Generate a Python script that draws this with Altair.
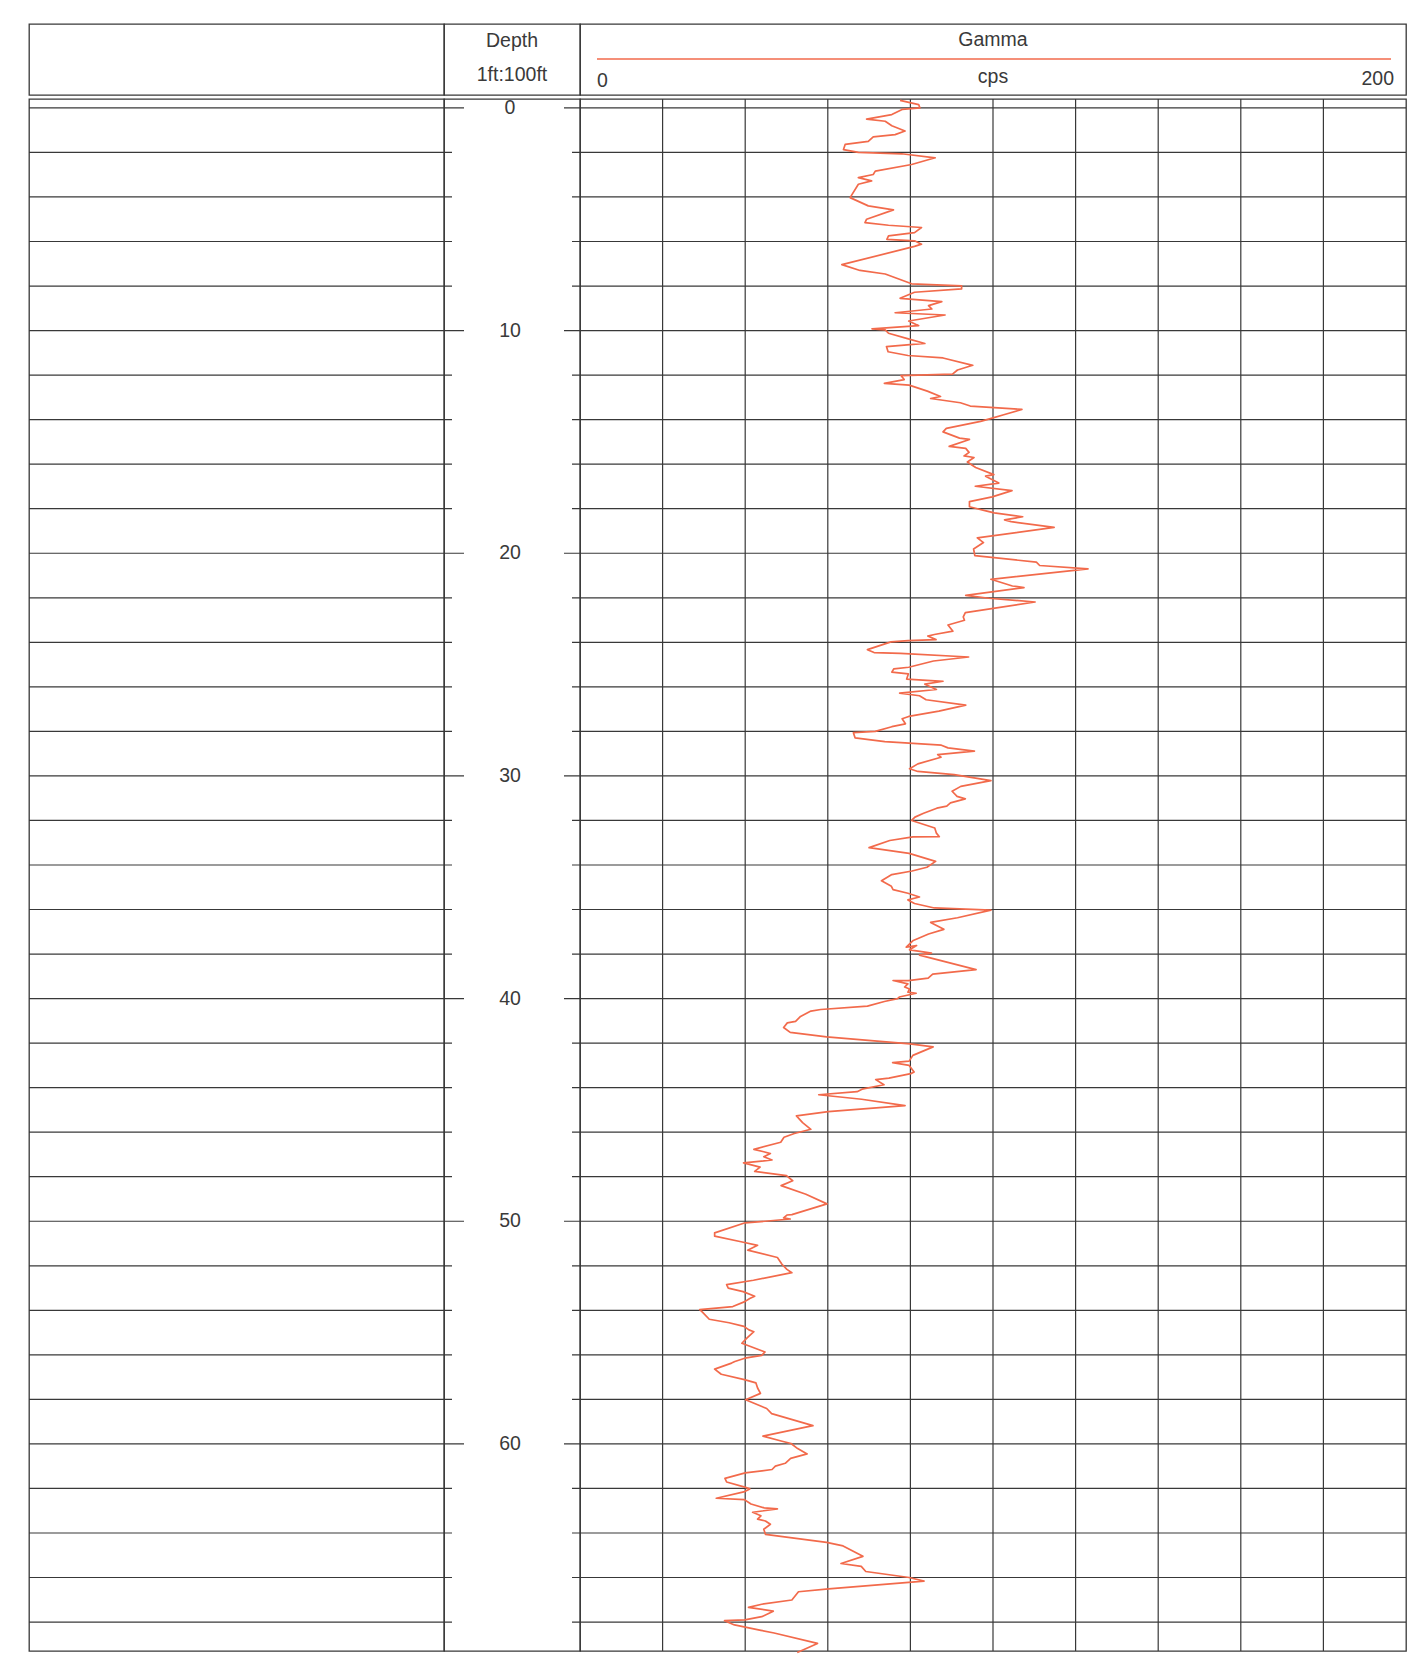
import altair as alt
import pandas as pd

DEPTH_FT = [
    -0.34, -0.15, 0.0, 0.07, 0.3, 0.5, 0.6, 0.8, 1.04, 1.2, 1.3, 1.5, 1.64, 1.87, 2.0, 2.06, 2.24, 2.54, 2.84, 2.99,
    3.13, 3.28, 3.43, 4.03, 4.4, 4.58, 5.0, 5.15, 5.27, 5.37, 5.6, 5.75, 5.9, 5.97, 6.12, 6.22, 7.04, 7.3, 7.46, 7.9,
    7.99, 8.13, 8.28, 8.55, 8.7, 8.88, 9.03, 9.2, 9.3, 9.57, 9.78, 9.92, 9.97, 10.12, 10.37, 10.58, 10.63, 10.72, 10.95, 11.12,
    11.23, 11.56, 11.77, 11.96, 12.02, 12.2, 12.37, 12.45, 12.72, 12.96, 13.05, 13.24, 13.39, 13.54, 13.78, 13.93, 14.08, 14.39, 14.55, 14.83,
    14.89, 15.2, 15.29, 15.47, 15.63, 15.7, 15.9, 16.15, 16.47, 16.54, 16.85, 16.99, 17.19, 17.47, 17.68, 17.91, 18.1, 18.19, 18.36, 18.5,
    18.58, 18.84, 19.31, 19.52, 19.81, 20.11, 20.4, 20.55, 20.7, 21.17, 21.47, 21.54, 21.89, 22.02, 22.19, 22.67, 22.86, 23.01, 23.22, 23.5,
    23.65, 23.72, 23.88, 23.92, 23.98, 24.33, 24.46, 24.5, 24.66, 24.84, 25.12, 25.19, 25.34, 25.42, 25.65, 25.75, 25.88, 26.12, 26.28, 26.4,
    26.58, 26.82, 27.09, 27.33, 27.43, 27.66, 27.79, 28.0, 28.06, 28.29, 28.46, 28.62, 28.74, 28.89, 29.04, 29.16, 29.46, 29.68, 29.8, 29.94,
    30.21, 30.47, 30.69, 30.92, 31.03, 31.21, 31.36, 31.45, 31.68, 31.85, 32.0, 32.34, 32.57, 32.73, 32.74, 32.9, 33.22, 33.48, 33.84, 34.1,
    34.27, 34.43, 34.71, 34.96, 35.11, 35.27, 35.44, 35.57, 35.73, 35.93, 36.03, 36.37, 36.58, 36.89, 37.1, 37.39, 37.69, 37.62, 37.81, 37.88,
    37.96, 38.05, 38.7, 38.9, 39.08, 39.19, 39.19, 39.34, 39.48, 39.57, 39.71, 39.76, 39.93, 40.0, 40.13, 40.34, 40.49, 40.56, 40.8, 41.02,
    41.09, 41.3, 41.52, 41.72, 42.03, 42.17, 42.55, 42.81, 42.88, 43.0, 43.3, 43.37, 43.57, 43.64, 43.87, 44.07, 44.18, 44.32, 44.52, 44.81,
    45.08, 45.27, 45.57, 45.87, 46.06, 46.23, 46.45, 46.77, 46.88, 46.96, 47.1, 47.25, 47.38, 47.57, 47.76, 47.95, 48.18, 48.4, 48.79, 49.22,
    49.7, 49.72, 49.85, 49.9, 50.0, 50.07, 50.52, 50.67, 50.92, 51.08, 51.3, 51.63, 51.93, 52.16, 52.31, 52.65, 52.85, 53.0, 53.16, 53.37,
    53.47, 53.61, 53.83, 53.97, 54.09, 54.4, 54.56, 54.72, 54.88, 54.96, 55.25, 55.48, 55.87, 56.02, 56.15, 56.3, 56.37, 56.64, 56.87, 57.11,
    57.26, 57.49, 57.73, 58.02, 58.41, 58.64, 59.18, 59.65, 59.87, 59.98, 60.21, 60.45, 60.65, 60.87, 61.0, 61.15, 61.3, 61.55, 61.71, 61.94,
    62.02, 62.14, 62.44, 62.5, 62.7, 62.87, 62.92, 63.07, 63.23, 63.38, 63.46, 63.61, 63.83, 64.06, 64.42, 64.58, 65.05, 65.37, 65.5, 65.73,
    66.0, 66.16, 66.51, 66.64, 67.01, 67.2, 67.34, 67.51, 67.76, 67.9, 67.94, 68.13, 68.37, 68.49, 68.96, 69.37,
]
GAMMA_CPS = [
    77.5, 82.0, 82.3, 78.0, 75.5, 69.4, 73.9, 75.5, 78.7, 76.3, 71.0, 69.8, 64.2, 63.8, 67.4, 77.9, 86.0, 80.3, 71.5, 71.0,
    67.4, 70.6, 67.4, 65.4, 69.8, 75.9, 69.4, 69.0, 74.7, 82.7, 81.0, 74.7, 74.3, 81.0, 82.7, 81.0, 63.4, 67.8, 73.9, 80.3,
    92.4, 92.4, 81.0, 77.5, 87.6, 84.4, 85.2, 76.3, 88.4, 79.6, 82.0, 70.7, 73.9, 74.7, 79.5, 83.5, 79.9, 74.2, 74.6, 79.4,
    87.9, 95.1, 91.4, 90.2, 77.7, 78.5, 73.7, 79.7, 84.1, 87.3, 84.9, 92.1, 94.5, 107.0, 102.6, 99.8, 97.0, 88.7, 87.9, 91.9,
    94.3, 89.4, 93.4, 94.2, 93.0, 95.4, 93.8, 95.8, 100.2, 98.2, 101.4, 95.7, 104.6, 99.8, 94.3, 94.3, 98.3, 100.3, 107.2, 102.8,
    104.4, 114.8, 96.2, 97.7, 95.3, 95.6, 110.5, 111.3, 123.0, 99.5, 104.7, 107.5, 93.4, 99.0, 110.2, 93.3, 92.8, 93.1, 89.1, 90.3,
    85.8, 84.2, 86.2, 79.4, 75.3, 69.6, 71.2, 77.6, 94.1, 85.6, 79.6, 76.0, 75.5, 79.5, 79.1, 87.9, 83.5, 86.3, 77.4, 82.2,
    83.8, 93.4, 86.9, 79.6, 78.0, 78.8, 75.5, 71.5, 66.2, 66.6, 73.8, 87.5, 89.1, 95.5, 86.6, 87.4, 81.8, 79.8, 81.8, 90.6,
    99.5, 92.2, 90.1, 91.3, 93.3, 89.7, 88.8, 86.4, 83.2, 81.1, 80.3, 85.9, 86.3, 87.0, 80.6, 75.0, 70.0, 79.7, 86.1, 84.0,
    80.4, 75.5, 73.0, 75.4, 75.8, 79.4, 82.2, 79.4, 81.0, 85.8, 99.5, 91.4, 84.9, 88.1, 84.4, 80.7, 79.0, 81.5, 79.8, 82.3,
    85.1, 82.2, 95.9, 85.4, 84.3, 79.5, 75.8, 79.4, 78.6, 79.8, 79.4, 81.4, 77.3, 76.9, 73.7, 69.6, 58.3, 55.9, 53.4, 52.2,
    50.2, 49.3, 50.9, 59.7, 79.9, 85.5, 80.6, 79.7, 75.7, 79.7, 80.9, 80.1, 74.8, 71.6, 73.6, 68.3, 67.1, 57.8, 68.2, 78.7,
    60.1, 52.4, 53.9, 55.9, 51.9, 49.4, 48.6, 42.1, 44.5, 46.1, 44.5, 46.5, 39.6, 43.6, 42.3, 50.0, 51.5, 48.7, 54.7, 59.8,
    51.3, 50.1, 49.3, 50.9, 44.8, 40.0, 32.6, 32.6, 39.0, 43.0, 40.6, 47.8, 48.9, 50.1, 51.3, 42.0, 35.5, 35.9, 39.5, 42.3,
    41.1, 39.9, 37.0, 29.0, 29.7, 31.3, 36.1, 39.7, 40.9, 42.1, 40.4, 39.2, 44.8, 44.0, 39.9, 37.5, 36.7, 32.6, 34.2, 39.8,
    42.6, 43.0, 43.7, 40.1, 45.2, 46.4, 56.4, 44.3, 48.7, 51.1, 52.7, 55.0, 51.0, 49.7, 47.3, 46.5, 40.0, 35.1, 35.5, 39.9,
    41.1, 39.9, 33.0, 39.8, 41.4, 44.6, 47.8, 41.8, 43.8, 43.0, 44.9, 46.1, 44.5, 44.9, 59.7, 63.7, 68.5, 63.2, 68.1, 69.2,
    79.7, 83.3, 60.2, 52.9, 51.3, 44.0, 40.8, 46.8, 44.0, 39.9, 35.0, 37.4, 43.8, 47.0, 57.5, 52.6,
]
GRID_CPS = [20, 40, 60, 80, 100, 120, 140, 160, 180]
LINE_DEPTHS = list(range(0, 70, 2))
LABEL_DEPTHS = [0, 10, 20, 30, 40, 50, 60]
DEPTH_TITLE = "Depth"
DEPTH_SCALE = "1ft:100ft"
TRACK_TITLE = "Gamma"
TRACK_UNIT = "cps"
TRACK_MIN = "0"
TRACK_MAX = "200"

# ---------------- layout / style ----------------
W_LEFT, W_DEPTH, W_TRACK = 415, 136, 826
H_HEAD, H_BODY = 71, 1552
GRID = "#383838"
CURVE = "#f26a4b"
TEXT = "#3a3a3a"
FONT = "Liberation Sans"
FS = 19.5

curve = pd.DataFrame({"i": list(range(len(DEPTH_FT))), "depth": DEPTH_FT, "gamma": GAMMA_CPS})
lines = pd.DataFrame({"depth": LINE_DEPTHS})
labels = pd.DataFrame({"depth": LABEL_DEPTHS})
grid = pd.DataFrame({"gamma": GRID_CPS})
one = pd.DataFrame({"k": [0]})

yscale = alt.Scale(domain=[-0.4, 69.3], reverse=True, nice=False, zero=False)
xscale = alt.Scale(domain=[0, 200], nice=False, zero=False)
Y = alt.Y("depth:Q", scale=yscale, axis=None)
X = alt.X("gamma:Q", scale=xscale, axis=None)
MAJOR = "datum.depth % 10 == 0"
MINOR = "datum.depth % 10 != 0"


def rules(x0, x1, flt):
    return alt.Chart(lines).transform_filter(flt).mark_rule(color=GRID, strokeWidth=1.2).encode(
        y=Y, x=alt.value(x0), x2=alt.value(x1)
    )


def label(txt, x, y, align="center"):
    return alt.Chart(one).mark_text(
        text=txt, font=FONT, fontSize=FS, color=TEXT, align=align, baseline="alphabetic"
    ).encode(x=alt.value(x), y=alt.value(y))


# left blank column
left_head = alt.Chart(one).mark_text(text=" ").encode(x=alt.value(0), y=alt.value(0)).properties(
    width=W_LEFT, height=H_HEAD)
left_body = alt.layer(
    rules(0, W_LEFT + 8, MINOR),
    rules(0, W_LEFT + 20, MAJOR),
).properties(width=W_LEFT, height=H_BODY)

# depth column
depth_head = alt.layer(
    label(DEPTH_TITLE, W_DEPTH / 2, 23),
    label(DEPTH_SCALE, W_DEPTH / 2, 57),
).properties(width=W_DEPTH, height=H_HEAD)
depth_body = alt.Chart(labels).mark_text(
    font=FONT, fontSize=FS, color=TEXT, align="center", baseline="middle"
).encode(y=Y, x=alt.value(66), text=alt.Text("depth:Q", format="d")).properties(
    width=W_DEPTH, height=H_BODY)

# gamma track
track_head = alt.layer(
    label(TRACK_TITLE, W_TRACK / 2, 22),
    alt.Chart(one).mark_rule(color=CURVE, strokeWidth=1.5).encode(
        x=alt.value(17), x2=alt.value(W_TRACK - 15), y=alt.value(35)),
    label(TRACK_MIN, 17, 63, "left"),
    label(TRACK_UNIT, W_TRACK / 2, 59),
    label(TRACK_MAX, W_TRACK - 12, 61, "right"),
).properties(width=W_TRACK, height=H_HEAD)
track_body = alt.layer(
    alt.Chart(grid).mark_rule(color=GRID, strokeWidth=1.2).encode(x=X),
    rules(-8, W_TRACK, MINOR),
    rules(-16, W_TRACK, MAJOR),
    alt.Chart(curve).mark_line(color=CURVE, strokeWidth=1.7, strokeJoin="round").encode(
        x=X, y=Y, order=alt.Order("i:Q")),
).properties(width=W_TRACK, height=H_BODY)

chart = alt.concat(
    left_head, depth_head, track_head,
    left_body, depth_body, track_body,
    columns=3, spacing={"row": 4, "column": 0}, bounds="flush",
).properties(
    padding={"left": 19, "top": 9, "right": 4, "bottom": 4}
).configure_view(stroke=GRID, strokeWidth=1.3)

chart.save("out.html", embed_options={"renderer": "svg", "actions": False})
